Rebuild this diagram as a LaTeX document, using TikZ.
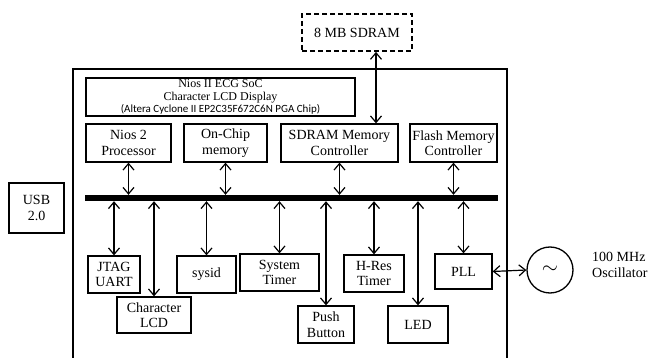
\documentclass[tikz,border=0pt]{standalone}
\usepackage{fontspec}
\setmainfont{Liberation Serif}
\newfontfamily\calib{Carlito}
\usetikzlibrary{arrows.meta,calc}
\begin{document}
\begin{tikzpicture}[x=1pt,y=-1pt,
  blk/.style={draw,line width=1.3pt,align=center,inner sep=0pt,font=\fontsize{14}{15.5}\selectfont},
  conn/.style={line width=1.2pt,{Straight Barb[length=6.5pt,width=11pt,line width=1.2pt]}-{Straight Barb[length=6.5pt,width=11pt,line width=1.2pt]}}]
\useasboundingbox (0,0) rectangle (649,358);
% chip outline
\draw[line width=1.3pt] (73,69) rectangle (507,372);
% external SDRAM
\node[blk,dashed,dash pattern=on 5pt off 3pt,line width=1.8pt,minimum width=110pt,minimum height=37pt] (sdramext) at (357,32.5) {8 MB SDRAM};
% title
\node[blk,minimum width=269pt,minimum height=38pt,font=\fontsize{12}{12.5}\selectfont] (title) at (220.5,97) {Nios II ECG SoC\\Character LCD Display\\{\calib\fontsize{11}{12}\selectfont (Altera Cyclone II EP2C35F672C6N PGA Chip)}};
% top row
\node[blk,minimum width=85pt,minimum height=38pt] (nios) at (128.5,143) {Nios 2\\Processor};
\node[blk,minimum width=83pt,minimum height=38pt] (onchip) at (225.5,143) {On-Chip\\memory};
\node[blk,minimum width=117pt,minimum height=38pt] (ctrl) at (339.5,143) {SDRAM Memory\\Controller};
\node[blk,minimum width=87pt,minimum height=38pt] (flash) at (453.5,143) {Flash Memory\\Controller};
% bus
\node[fill=black,inner sep=0pt,minimum width=413pt,minimum height=6pt] (bus) at (291.5,198) {};
% USB
\node[blk,minimum width=55pt,minimum height=50pt] (usb) at (36.5,208) {USB\\2.0};
% bottom row
\node[blk,minimum width=52pt,minimum height=37pt] (jtag) at (114,274.5) {JTAG\\UART};
\node[blk,minimum width=74pt,minimum height=36pt] (charlcd) at (154,315) {Character\\LCD};
\node[blk,minimum width=59pt,minimum height=37pt] (sysid) at (206.5,274.5) {sysid};
\node[blk,minimum width=79pt,minimum height=37pt] (systimer) at (279.5,272.5) {System\\Timer};
\node[blk,minimum width=56pt,minimum height=37pt] (push) at (326,324.5) {Push\\Button};
\node[blk,minimum width=60pt,minimum height=37pt] (hres) at (374,273.5) {H-Res\\Timer};
\node[blk,minimum width=60pt,minimum height=37pt] (led) at (418,324.5) {LED};
\node[blk,minimum width=57pt,minimum height=35pt] (pll) at (463.5,271.5) {PLL};
\node[draw,circle,line width=1.3pt,minimum size=46pt,inner sep=0pt,font=\fontsize{22}{22}\selectfont] (osc) at (550,270) {$\sim$};
\node[align=left,anchor=west,inner sep=0pt,font=\fontsize{14}{16}\selectfont] (osclbl) at (592,265) {100 MHz\\Oscillator};
% connectors
\draw[conn] ([xshift=19pt]sdramext.south) -- ([xshift=19pt]sdramext.south |- ctrl.north);
\foreach \n in {nios,onchip,ctrl,flash}
  \draw[conn] (\n.south) -- (\n.south |- bus.north);
\foreach \n in {jtag,charlcd,sysid,systimer,push,hres,led,pll}
  \draw[conn] (\n.north |- bus.south) -- (\n.north);
\draw[conn] (pll.east) -- (osc.west);
\end{tikzpicture}
\end{document}
